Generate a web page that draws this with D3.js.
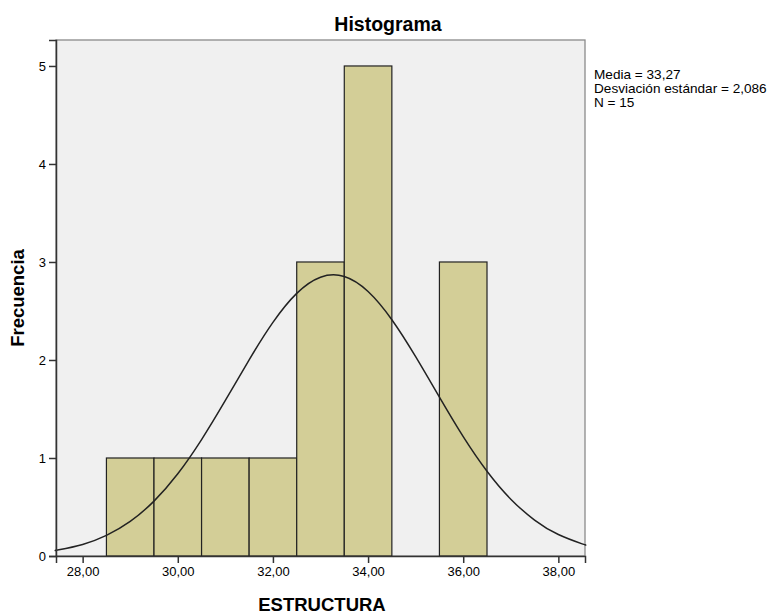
<!DOCTYPE html>
<meta charset="utf-8">
<title>Histograma</title>
<style>
body { margin: 0; background: #fff; }
text { font-family: Arial, "Liberation Sans", sans-serif; fill: #000; }
</style>
<body>
<script src="https://cdn.jsdelivr.net/npm/d3@7"></script>
<script>
var width = 774, height = 614;

// bins of width 1, counts
var binStart = [28.5, 29.5, 30.5, 31.5, 32.5, 33.5, 35.5];
var binCount = [1, 1, 1, 1, 3, 5, 3];
var xTicks = [28, 30, 32, 34, 36, 38];
var yTicks = [0, 1, 2, 3, 4, 5];
var stats = ["Media = 33,27", "Desviación estándar = 2,086", "N = 15"];
// normal curve as it sits on the picture
var curveX = [27.44, 27.5, 28, 28.5, 29, 29.5, 30, 30.5, 31, 31.5, 32, 32.5, 33, 33.5,
              34, 34.5, 35, 35.5, 36, 36.5, 37, 37.5, 38, 38.5, 38.56];
var curveY = [0.058, 0.063, 0.118, 0.210, 0.353, 0.560, 0.839, 1.188, 1.587, 2.002, 2.384, 2.680, 2.845, 2.852,
              2.699, 2.411, 2.034, 1.621, 1.218, 0.865, 0.580, 0.367, 0.219, 0.124, 0.115];

var svg = d3.select('body').append('svg')
    .attr('width', width)
    .attr('height', height);

// plot frame (note: "top" is taken by window.top)
var plotL = 56, plotR = 585, plotT = 40, plotB = 556;

var x = d3.scaleLinear().domain([27.44, 38.56]).range([plotL, plotR]);
var y = d3.scaleLinear().domain([0, 5.265]).range([plotB, plotT]);

// plot background
svg.append('rect')
    .attr('x', plotL).attr('y', plotT)
    .attr('width', plotR - plotL).attr('height', plotB - plotT)
    .attr('fill', '#f0f0f0')
    .attr('stroke', '#8a8a8a')
    .attr('stroke-width', 1.3);

// bars
svg.selectAll('rect.bar')
    .data(binStart)
  .enter().append('rect')
    .attr('class', 'bar')
    .attr('x', function(d) { return x(d); })
    .attr('width', function(d) { return x(d + 1) - x(d); })
    .attr('y', function(d, i) { return y(binCount[i]); })
    .attr('height', function(d, i) { return y(0) - y(binCount[i]); })
    .attr('fill', '#d3ce97')
    .attr('stroke', '#222')
    .attr('stroke-width', 1.2);

// normal curve
var line = d3.line()
    .x(function(d, i) { return x(curveX[i]); })
    .y(function(d) { return y(d); })
    .curve(d3.curveNatural);
svg.append('path')
    .datum(curveY)
    .attr('d', line)
    .attr('fill', 'none')
    .attr('stroke', '#222')
    .attr('stroke-width', 1.5);

// axes
var xAxis = d3.axisBottom(x)
    .tickValues(xTicks)
    .tickSize(7)
    .tickPadding(4)
    .tickFormat(function(d) { return d3.format('.2f')(d).replace('.', ','); });
var gx = svg.append('g')
    .attr('transform', 'translate(0,' + plotB + ')')
    .call(xAxis)
    .attr('font-family', null)
    .attr('font-size', null);
gx.select('.domain').attr('stroke', '#333').attr('stroke-width', 1.5);
gx.selectAll('.tick line').attr('stroke', '#333').attr('stroke-width', 1.5);
gx.selectAll('text').style('font-size', '13px').attr('fill', '#000');

var yAxis = d3.axisLeft(y)
    .tickValues(yTicks)
    .tickSize(7)
    .tickPadding(3)
    .tickFormat(d3.format('d'));
var gy = svg.append('g')
    .attr('transform', 'translate(' + plotL + ',0)')
    .call(yAxis)
    .attr('font-family', null)
    .attr('font-size', null);
gy.select('.domain').attr('stroke', '#333').attr('stroke-width', 1.5);
gy.selectAll('.tick line').attr('stroke', '#333').attr('stroke-width', 1.5);
gy.selectAll('text').style('font-size', '13px').attr('fill', '#000');

// titles
svg.append('text')
    .attr('x', 388).attr('y', 31)
    .attr('text-anchor', 'middle')
    .attr('font-weight', 'bold')
    .style('font-size', '19.5px')
    .text('Histograma');

svg.append('text')
    .attr('x', 322).attr('y', 611)
    .attr('text-anchor', 'middle')
    .attr('font-weight', 'bold')
    .style('font-size', '18.5px')
    .text('ESTRUCTURA');

svg.append('text')
    .attr('transform', 'translate(23.5,298) rotate(-90)')
    .attr('text-anchor', 'middle')
    .attr('font-weight', 'bold')
    .style('font-size', '18.5px')
    .text('Frecuencia');

// stats legend
svg.selectAll('text.stat')
    .data(stats)
  .enter().append('text')
    .attr('class', 'stat')
    .attr('x', 594)
    .attr('y', function(d, i) { return 79 + i * 13.8; })
    .style('font-size', '13.6px')
    .text(function(d) { return d; });
</script>
